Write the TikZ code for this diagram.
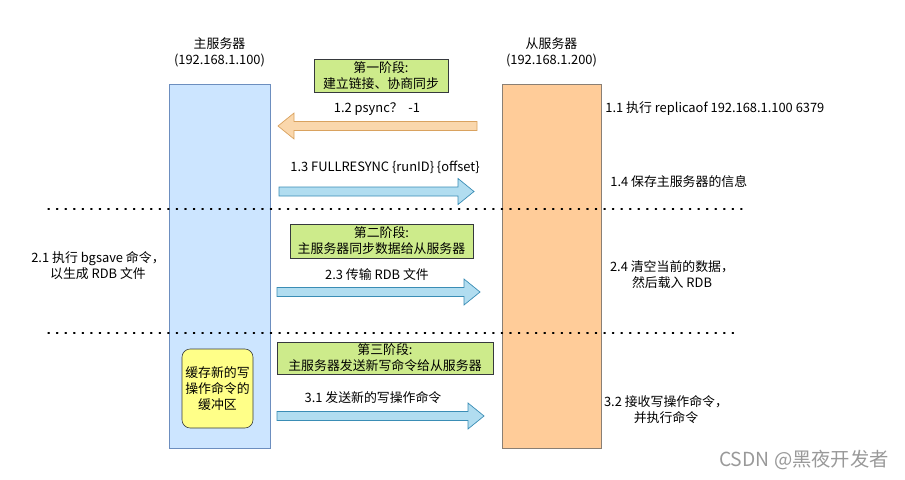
\documentclass[tikz,border=0pt]{standalone}
\usepackage{fontspec}
\setmainfont{Noto Sans CJK SC}
\usepackage{xcolor}
\usepackage{tikz}
\usetikzlibrary{positioning}

\definecolor{masterfill}{HTML}{CCE5FF}
\definecolor{masterline}{HTML}{6C8EBF}
\definecolor{slavefill}{HTML}{FFCC99}
\definecolor{slaveline}{HTML}{8A7F74}
\definecolor{stagefill}{HTML}{CDEB8B}
\definecolor{darkline}{HTML}{36393D}
\definecolor{bluefill}{HTML}{B1DDF0}
\definecolor{blueline}{HTML}{3A8DB5}
\definecolor{orangefill}{HTML}{FAD7AC}
\definecolor{orangeline}{HTML}{D9A25F}
\definecolor{bufferfill}{HTML}{FFFF88}

\tikzset{
    fat arrow/.pic={
        \draw[pic actions] (0,-4.5) -- (#1-16,-4.5) -- (#1-16,-13) -- (#1,0)
            -- (#1-16,13) -- (#1-16,4.5) -- (0,4.5) -- cycle;
    }
}

\begin{document}
\begin{tikzpicture}[
    x=0.03cm, y=-0.03cm,
    font=\fontsize{11}{13.6}\selectfont,
    master/.style={draw=masterline, fill=masterfill, line width=0.6pt, minimum width=3.03cm, minimum height=10.92cm},
    slave/.style={draw=slaveline, fill=slavefill, line width=0.6pt, minimum width=2.97cm, minimum height=10.92cm},
    title/.style={align=center, inner sep=1pt},
    stage/.style={draw=darkline, fill=stagefill, line width=0.5pt, align=center, inner sep=1pt},
    note/.style={align=center, inner sep=1pt},
    bluearrow/.style={draw=blueline, fill=bluefill, line width=0.6pt},
    orangearrow/.style={draw=orangeline, fill=orangefill, line width=0.6pt},
    phase/.style={line width=1.1pt, dash pattern=on 1.1pt off 6.2pt, line cap=round}
]
    \useasboundingbox (0,0) rectangle (905,479);

    % servers
    \node[master] (master) at (219.5,266) {};
    \node[slave] (slave) at (551.5,266) {};
    \node[title, above=0.45cm of master] (mastertitle) {主服务器\\(192.168.1.100)};
    \node[title, above=0.45cm of slave] (slavetitle) {从服务器\\(192.168.1.200)};

    % phase separators
    \draw[phase] (48,209) -- (742,209);
    \draw[phase] (48,333) -- (740,333);

    % stage 1
    \node[stage, minimum width=4.02cm, minimum height=0.99cm] (stage1) at (381,75.5) {第一阶段:\\建立链接、协商同步};
    \pic[xscale=-1, orangearrow] at (477,126) {fat arrow=199};
    \node[note] (psync) at (377,109) {1.2 psync？\ \ -1};
    \pic[bluearrow] at (279,191.5) {fat arrow=195};
    \node[note] (fullsync) at (385,167) {1.3 FULLRESYNC \{runID\} \{offset\}};
    \node[note, anchor=west] (replicaof) at (604,109) {1.1 执行 replicaof 192.168.1.100 6379};
    \node[note, anchor=west] (saveinfo) at (609,182) {1.4 保存主服务器的信息};

    % stage 2
    \node[stage, minimum width=5.49cm, minimum height=1.02cm] (stage2) at (381.5,241) {第二阶段:\\主服务器同步数据给从服务器};
    \pic[bluearrow] at (277,292) {fat arrow=203};
    \node[note] (sendrdb) at (377,275) {2.3 传输 RDB 文件};
    \node[note] (bgsave) at (98,266) {2.1 执行 bgsave 命令，\\以生成 RDB 文件};
    \node[note] (loadrdb) at (672,275) {2.4 清空当前的数据，\\然后载入 RDB};

    % stage 3
    \node[stage, minimum width=6.48cm, minimum height=0.96cm] (stage3) at (385,358) {第三阶段:\\主服务器发送新写命令给从服务器};
    \node[draw=darkline, fill=bufferfill, line width=0.5pt, rounded corners=7pt, align=center,
        minimum width=2.13cm, minimum height=2.37cm, inner sep=1pt] (buffer) at (217.5,388.5) {缓存新的写\\操作命令的\\缓冲区};
    \pic[bluearrow] at (277,416) {fat arrow=207};
    \node[note] (sendcmd) at (373,398) {3.1 发送新的写操作命令};
    \node[note] (runcmd) at (666,410) {3.2 接收写操作命令，\\并执行命令};

    % watermark
    \node[text=black!40, font=\fontsize{16.5}{20}\selectfont] (mark) at (804,460) {CSDN @黑夜开发者};
\end{tikzpicture}
\end{document}
